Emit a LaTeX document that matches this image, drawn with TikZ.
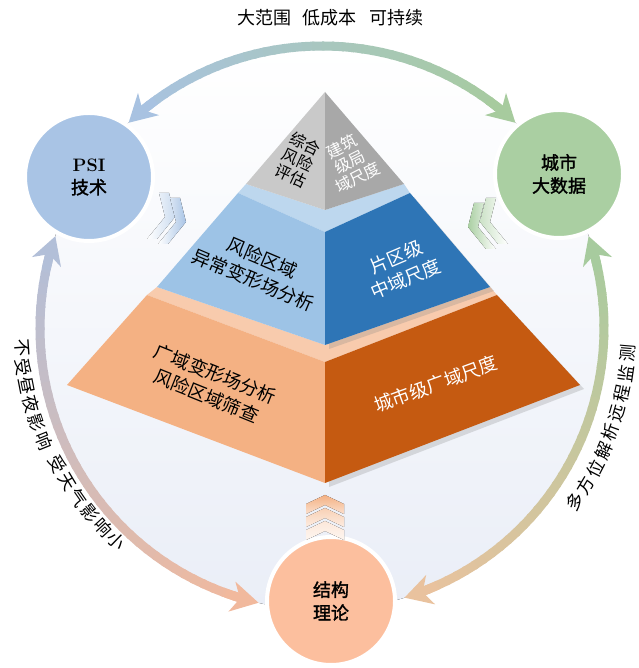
\documentclass[tikz,border=0pt]{standalone}
\usepackage{fontspec}
\newfontfamily\cjk{Noto Sans CJK SC}
\newfontfamily\cjkbold[FakeBold=1.6]{Noto Sans CJK SC}
\usetikzlibrary{arrows.meta, shadows}

\definecolor{psiblue}{HTML}{A9C4E5}
\definecolor{datagreen}{HTML}{AACFA2}
\definecolor{theorypeach}{HTML}{FCBF9E}
\definecolor{greyL}{HTML}{C9C9C9}
\definecolor{greyR}{HTML}{A8A8A8}
\definecolor{blueL}{HTML}{9DC3E6}
\definecolor{blueT}{HTML}{BDD7EE}
\definecolor{blueR}{HTML}{2E75B6}
\definecolor{orangeL}{HTML}{F4B183}
\definecolor{orangeT}{HTML}{F8CBAD}
\definecolor{orangeR}{HTML}{C55A11}
\definecolor{ringA}{HTML}{A8C2E1}
\definecolor{ringB}{HTML}{A7CB9E}
\definecolor{ringC}{HTML}{B2BFD8}
\definecolor{ringD}{HTML}{F1B99D}
\definecolor{ringE}{HTML}{E9C29E}
\definecolor{discfill}{HTML}{EAEEF7}

\tikzset{
  ring/.style={line width=9pt},
  ringtip/.style={line width=9pt, -{Stealth[length=27pt, width=30pt, inset=8pt]}},
  topic/.style={circle, minimum size=128pt, inner sep=0pt, draw=white, line width=4pt,
    align=center, font=\cjkbold\fontsize{18}{23}\selectfont},
  facetext/.style={align=center, font=\cjk\fontsize{18.5}{24}\selectfont},
  captext/.style={align=center, font=\cjk\fontsize{16}{17.5}\selectfont},
  arctext/.style={inner sep=0pt, font=\cjk\fontsize{17.5}{17.5}\selectfont},
  faceshadow/.style={drop shadow={shadow xshift=4pt, shadow yshift=-4pt, opacity=.25}},
}

% arc of the ring from #1 to #2 (degrees), colour #3 to #4, tips at both ends
\newcommand\ringarc[4]{%
  \pgfmathsetmacro\dirn{sign(#2-#1)}
  \pgfmathsetmacro\sA{#1+3.2*\dirn}
  \pgfmathsetmacro\eA{#2-3.2*\dirn}
  \foreach \i in {1,...,40}{
    \pgfmathsetmacro\a{\sA+(\eA-\sA)*(\i-1)/40}
    \pgfmathsetmacro\b{\sA+(\eA-\sA)*(\i+0.25)/40}
    \pgfmathtruncatemacro\m{100-100*(\i-0.5)/40}
    \draw[ring, #3!\m!#4] (ctr) ++(\a:282) arc[start angle=\a, end angle=\b, radius=282];
  }
  \pgfmathsetmacro\sB{#1+7*\dirn}
  \pgfmathsetmacro\eB{#2-7*\dirn}
  \draw[ringtip, #3] (ctr) ++(\sB:282) arc[start angle=\sB, end angle=#1, radius=282];
  \draw[ringtip, #4] (ctr) ++(\eB:282) arc[start angle=\eB, end angle=#2, radius=282];
}

\begin{document}
\begin{tikzpicture}[x=1pt, y=1pt]
\useasboundingbox (0,0) rectangle (638,668);
\coordinate (ctr) at (322,340);

%Disc
\fill[top color=white, bottom color=discfill] (ctr) circle (282);

%Ring
\ringarc{133.3}{46.7}{ringA}{ringB}
\ringarc{161}{257}{ringC}{ringD}
\ringarc{19}{-73}{ringB}{ringE}

%Circles
\node[topic, fill=psiblue] (psi) at (89,491) {{\rmfamily\bfseries PSI}\\技术};
\node[topic, fill=datagreen] (data) at (559,494) {城市\\大数据};
\node[topic, fill=theorypeach] (theory) at (331,67) {结构\\理论};

%Chevrons
\fill[left color=white, right color=psiblue!60] (159,451) ++(0,24) -- ++(10,0) -- ++(6,-24) -- ++(-18,-22) -- ++(-10,0) -- ++(18,22) -- cycle;
\fill[left color=white, right color=psiblue] (170,446) ++(0,24) -- ++(10,0) -- ++(6,-24) -- ++(-18,-22) -- ++(-10,0) -- ++(18,22) -- cycle;
\fill[left color=datagreen!60, right color=white] (496,446) ++(0,24) -- ++(-10,0) -- ++(-6,-24) -- ++(18,-22) -- ++(10,0) -- ++(-18,22) -- cycle;
\fill[left color=datagreen, right color=white] (484,441) ++(0,24) -- ++(-10,0) -- ++(-6,-24) -- ++(18,-22) -- ++(10,0) -- ++(-18,22) -- cycle;
\foreach \y/\c in {173/100, 160/60, 147/30}
  \fill[top color=orangeL!\c, bottom color=orangeL!\c!white!40] (325,\y) -- ++(19,-9) -- ++(0,-10) -- ++(-19,9) -- ++(-19,-9) -- ++(0,10) -- cycle;

%Bottom tier
\fill[orangeT] (147,373) -- (325,306) -- (497,373) -- (490,381) -- (325,323) -- (157,381) -- cycle;
\fill[orangeL] (147,373) -- (325,306) -- (325,185) -- (67,283) -- cycle;
\fill[orangeR, faceshadow] (325,306) -- (497,373) -- (580,283) -- (325,185) -- cycle;

%Middle tier
\fill[blueT] (238,475) -- (325,436) -- (410,475) -- (404,484) -- (325,458) -- (246,484) -- cycle;
\fill[blueL] (238,475) -- (325,436) -- (325,323) -- (157,381) -- cycle;
\fill[blueR, faceshadow] (325,436) -- (410,475) -- (490,381) -- (325,323) -- cycle;

%Top
\fill[greyL] (325,576) -- (246,484) -- (325,458) -- cycle;
\fill[greyR] (325,576) -- (325,458) -- (404,484) -- cycle;

%Face texts
\node[captext, rotate=-25] (riskeval) at (298,508) {综合\\风险\\评估};
\node[captext, white, rotate=27] (bldscale) at (350,506) {建筑\\级局\\域尺度};
\node[facetext, rotate=-23] (anomaly) at (258,399) {风险区域\\异常变形场分析};
\node[facetext, white, rotate=23] (midscale) at (401,400) {片区级\\中域尺度};
\node[facetext, rotate=-22] (screen) at (211,283) {广域变形场分析\\风险区域筛查};
\node[facetext, white, rotate=20] (cityscale) at (436,284) {城市级广域尺度};

%Ring texts
\node[arctext, font=\cjk\fontsize{18}{18}\selectfont] (toptxt) at (330,650) {大范围\hspace{12pt}低成本\hspace{12pt}可持续};
\foreach \ch/\ang/\rad [count=\k] in {不/183.8/301, 受/187.45/301, 昼/191.1/301, 夜/194.75/301, 影/198.4/301, 响/202.05/300,
    受/207.3/298, 天/211.04/298, 气/214.78/297, 影/218.52/297, 响/222.26/296, 小/226/296}
  \path (ctr) ++(\ang:\rad) node[arctext, rotate=\ang+90] (left\k) {\ch};
\foreach \ch/\ang [count=\k] in {多/-34.5, 方/-30.85, 位/-27.2, 解/-23.55, 析/-19.9,
    远/-16.2, 程/-12.4, 监/-8.6, 测/-4.8}
  \path (ctr) ++(\ang:307) node[arctext, rotate=\ang+90] (right\k) {\ch};
\end{tikzpicture}
\end{document}
